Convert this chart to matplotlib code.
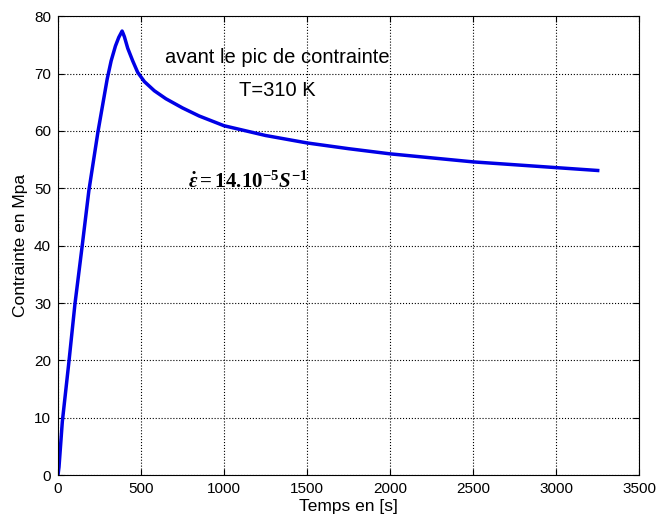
import matplotlib
matplotlib.use("Agg")
import matplotlib.pyplot as plt

# stress vs time
temps = [0, 6, 26, 66, 102, 145, 186, 241, 296, 320, 346, 366, 386,
         392, 400, 420, 450, 480, 520, 580, 650, 750, 850, 1000, 1250, 1500,
         1750, 2000, 2500, 3000, 3250]
contrainte = [0, 1.4, 9.3, 19.8, 29.8, 39.8, 49.6, 59.9, 69.0, 72.2, 74.8, 76.3, 77.4,
              77.0, 76.4, 74.4, 72.2, 70.2, 68.6, 67.0, 65.6, 64.0, 62.6, 60.9, 59.2, 57.9,
              56.9, 56.0, 54.6, 53.6, 53.1]

xticks = [0, 500, 1000, 1500, 2000, 2500, 3000, 3500]
yticks = [0, 10, 20, 30, 40, 50, 60, 70, 80]

plt.rcParams['font.family'] = ['Liberation Sans', 'DejaVu Sans']
plt.rcParams['mathtext.fontset'] = 'custom'
plt.rcParams['mathtext.rm'] = 'Liberation Serif:bold'
plt.rcParams['mathtext.it'] = 'Liberation Serif:bold:italic'

fig = plt.figure(figsize=(6.56, 5.21), dpi=100)
ax = fig.add_axes([0.0884, 0.088, 0.886, 0.881])

ax.plot(temps, contrainte, color='#0000e6', linewidth=2.5)

ax.set_xlim(0, 3500)
ax.set_ylim(0, 80)
ax.set_xticks(xticks)
ax.set_yticks(yticks)
ax.tick_params(direction='in', top=True, right=True, labelsize=11, length=4, pad=5)
ax.grid(True, linestyle=':', color='black', linewidth=0.8)

ax.set_xlabel("Temps en [s]", fontsize=12.5, labelpad=2)
ax.set_ylabel("Contrainte en Mpa", fontsize=12.5, labelpad=4)

ax.text(1320, 72.8, "avant le pic de contrainte", fontsize=14.5, ha='center', va='center')
ax.text(1320, 67.1, "T=310 K", fontsize=14.5, ha='center', va='center')
ax.text(1145, 51.2, r'$\dot{\varepsilon}=14.10^{-5}S^{-1}$', fontsize=15, ha='center', va='center')

fig.savefig("out.png", dpi=100)
